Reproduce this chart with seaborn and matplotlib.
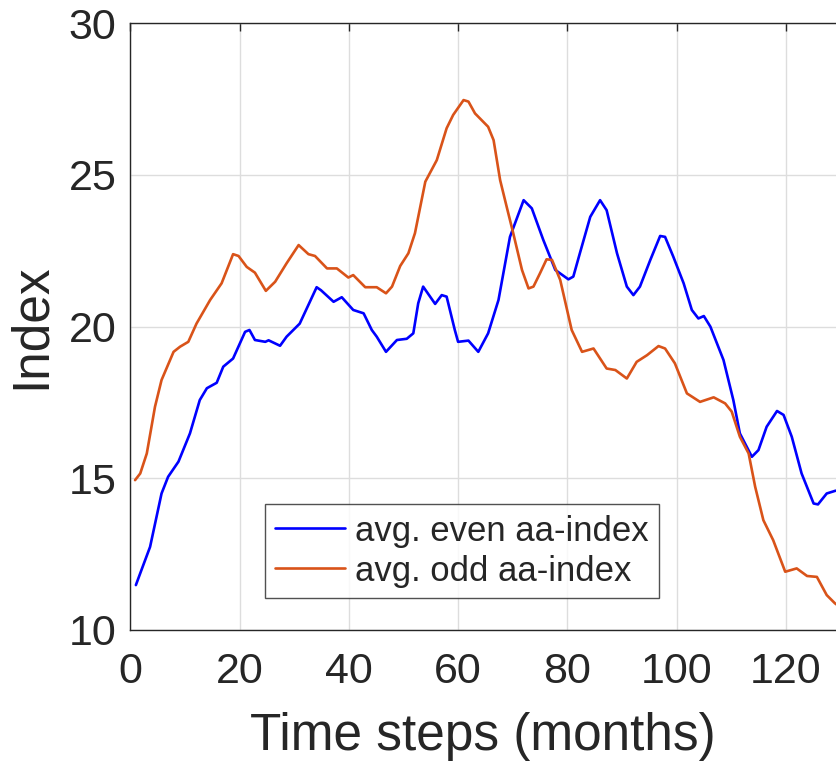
import matplotlib
matplotlib.use("Agg")
import matplotlib.pyplot as plt
import seaborn as sns
import pandas as pd

# Monthly averaged aa-index, even and odd cycles
even_months = [1.0, 1.8, 3.6, 5.7, 6.9, 8.8, 10.9, 12.7, 14.0, 15.8, 17.0, 18.8, 21.0, 21.8,
               22.8, 24.7, 25.3, 27.4, 28.6, 31.0, 34.1, 34.9, 37.2, 38.7, 40.8, 42.7, 44.2,
               45.1, 46.8, 48.8, 50.6, 51.8, 52.7, 53.6, 55.8, 57.0, 57.9, 59.4, 60.0, 61.9,
               63.7, 65.5, 67.4, 69.5, 72.0, 73.5, 75.6, 77.8, 80.2, 81.1, 82.3, 84.2, 86.0,
               87.2, 89.1, 90.9, 92.1, 93.3, 95.2, 97.0, 97.9, 99.4, 101.3, 102.8, 104.0, 105.0,
               106.2, 108.6, 110.4, 111.6, 113.8, 115.0, 116.5, 118.4, 119.6, 121.1, 122.9,
               125.1, 125.9, 127.5, 129.1, 130.0]
even_values = [11.48, 11.87, 12.74, 14.5, 15.05, 15.55, 16.48, 17.58, 17.97, 18.15, 18.68, 18.95,
               19.83, 19.89, 19.56, 19.5, 19.55, 19.37, 19.67, 20.1, 21.3, 21.2, 20.82, 20.97,
               20.55, 20.44, 19.89, 19.67, 19.17, 19.56, 19.6, 19.78, 20.77, 21.32, 20.75, 21.04,
               20.99, 19.89, 19.5, 19.54, 19.17, 19.78, 20.88, 22.96, 24.17, 23.9, 22.86, 21.87,
               21.56, 21.65, 22.42, 23.62, 24.17, 23.84, 22.42, 21.32, 21.04, 21.32, 22.2, 22.99,
               22.96, 22.31, 21.43, 20.55, 20.27, 20.35, 20.0, 18.9, 17.58, 16.48, 15.71, 15.93,
               16.7, 17.22, 17.09, 16.37, 15.16, 14.17, 14.14, 14.5, 14.59, 14.6]

odd_months = [0.85, 1.8, 3.0, 4.5, 5.7, 7.9, 9.1, 10.6, 12.1, 14.6, 16.7, 18.8, 19.8, 21.3, 22.8,
              24.8, 26.5, 28.6, 30.8, 32.6, 33.8, 36.0, 37.8, 39.9, 40.8, 43.0, 45.1, 46.8, 47.9,
              49.4, 50.9, 52.1, 54.0, 56.1, 57.9, 59.1, 61.0, 61.9, 63.1, 65.5, 66.5, 67.7, 68.9,
              70.1, 71.7, 72.9, 73.8, 75.0, 76.2, 77.2, 78.7, 80.8, 82.7, 84.8, 87.2, 88.8, 90.9,
              92.7, 94.6, 96.7, 97.9, 99.7, 101.9, 104.3, 106.8, 108.9, 110.1, 111.6, 113.2,
              114.4, 115.9, 117.7, 119.9, 122.0, 123.9, 125.7, 127.5, 129.0, 130.0]
odd_values = [14.94, 15.16, 15.82, 17.36, 18.24, 19.17, 19.34, 19.5, 20.1, 20.88, 21.43, 22.39,
              22.33, 21.97, 21.78, 21.18, 21.48, 22.09, 22.69, 22.39, 22.33, 21.92, 21.92, 21.62,
              21.7, 21.3, 21.3, 21.1, 21.32, 22.0, 22.42, 23.08, 24.78, 25.49, 26.54, 26.98,
              27.47, 27.42, 27.03, 26.59, 26.15, 24.83, 23.95, 23.08, 21.87, 21.26, 21.32, 21.76,
              22.22, 22.2, 21.54, 19.89, 19.17, 19.28, 18.62, 18.57, 18.29, 18.84, 19.06, 19.36,
              19.28, 18.79, 17.8, 17.52, 17.67, 17.47, 17.2, 16.37, 15.82, 14.72, 13.62, 12.96,
              11.92, 12.03, 11.78, 11.75, 11.15, 10.88, 10.75]

series_names = ["avg. even aa-index", "avg. odd aa-index"]
series_colors = ["#0000FF", "#D95319"]
x_ticks = [0, 20, 40, 60, 80, 100, 120]
y_ticks = [10, 15, 20, 25, 30]

df = pd.concat([
    pd.DataFrame({"month": even_months, "value": even_values, "series": series_names[0]}),
    pd.DataFrame({"month": odd_months, "value": odd_values, "series": series_names[1]}),
], ignore_index=True)

sns.set_theme(style="white")
plt.rcParams["font.family"] = ["Liberation Sans", "DejaVu Sans"]

fig = plt.figure(figsize=(8.36, 7.65), dpi=100)
ax = fig.add_axes([0.156, 0.1765, 0.844, 0.793])

sns.lineplot(data=df, x="month", y="value", hue="series", hue_order=series_names,
             palette=series_colors, linewidth=1.9, ax=ax, legend=False,
             estimator=None, sort=False)

ax.set_xlim(0, 129.2)
ax.set_ylim(10, 30)
ax.set_xticks(x_ticks)
ax.set_yticks(y_ticks)
ax.grid(True, color="#DDDDDD", linewidth=1.0)
ax.set_axisbelow(True)

text_color = "#262626"
for side in ["left", "bottom", "top"]:
    ax.spines[side].set_color(text_color)
    ax.spines[side].set_linewidth(1.0)
ax.spines["right"].set_visible(False)
ax.tick_params(direction="in", top=True, right=False, length=6, width=1.0,
               labelsize=31, colors=text_color)
ax.tick_params(axis="x", pad=16)
ax.tick_params(axis="y", pad=10)
ax.set_xlabel("Time steps (months)", fontsize=37, color=text_color, labelpad=14)
ax.set_ylabel("Index", fontsize=37, color=text_color, labelpad=9)

handles = [plt.Line2D([], [], color=c, linewidth=1.9) for c in series_colors]
leg = fig.legend(handles, series_names, loc="lower left",
                 bbox_to_anchor=(265 / 836, (765 - 598) / 765),
                 fontsize=25, frameon=True, fancybox=False, handlelength=2.0,
                 handletextpad=0.3, borderpad=0.3, labelspacing=0.2, borderaxespad=0)
leg.get_frame().set_edgecolor(text_color)
leg.get_frame().set_linewidth(1.0)

fig.savefig("out.png", dpi=100)
